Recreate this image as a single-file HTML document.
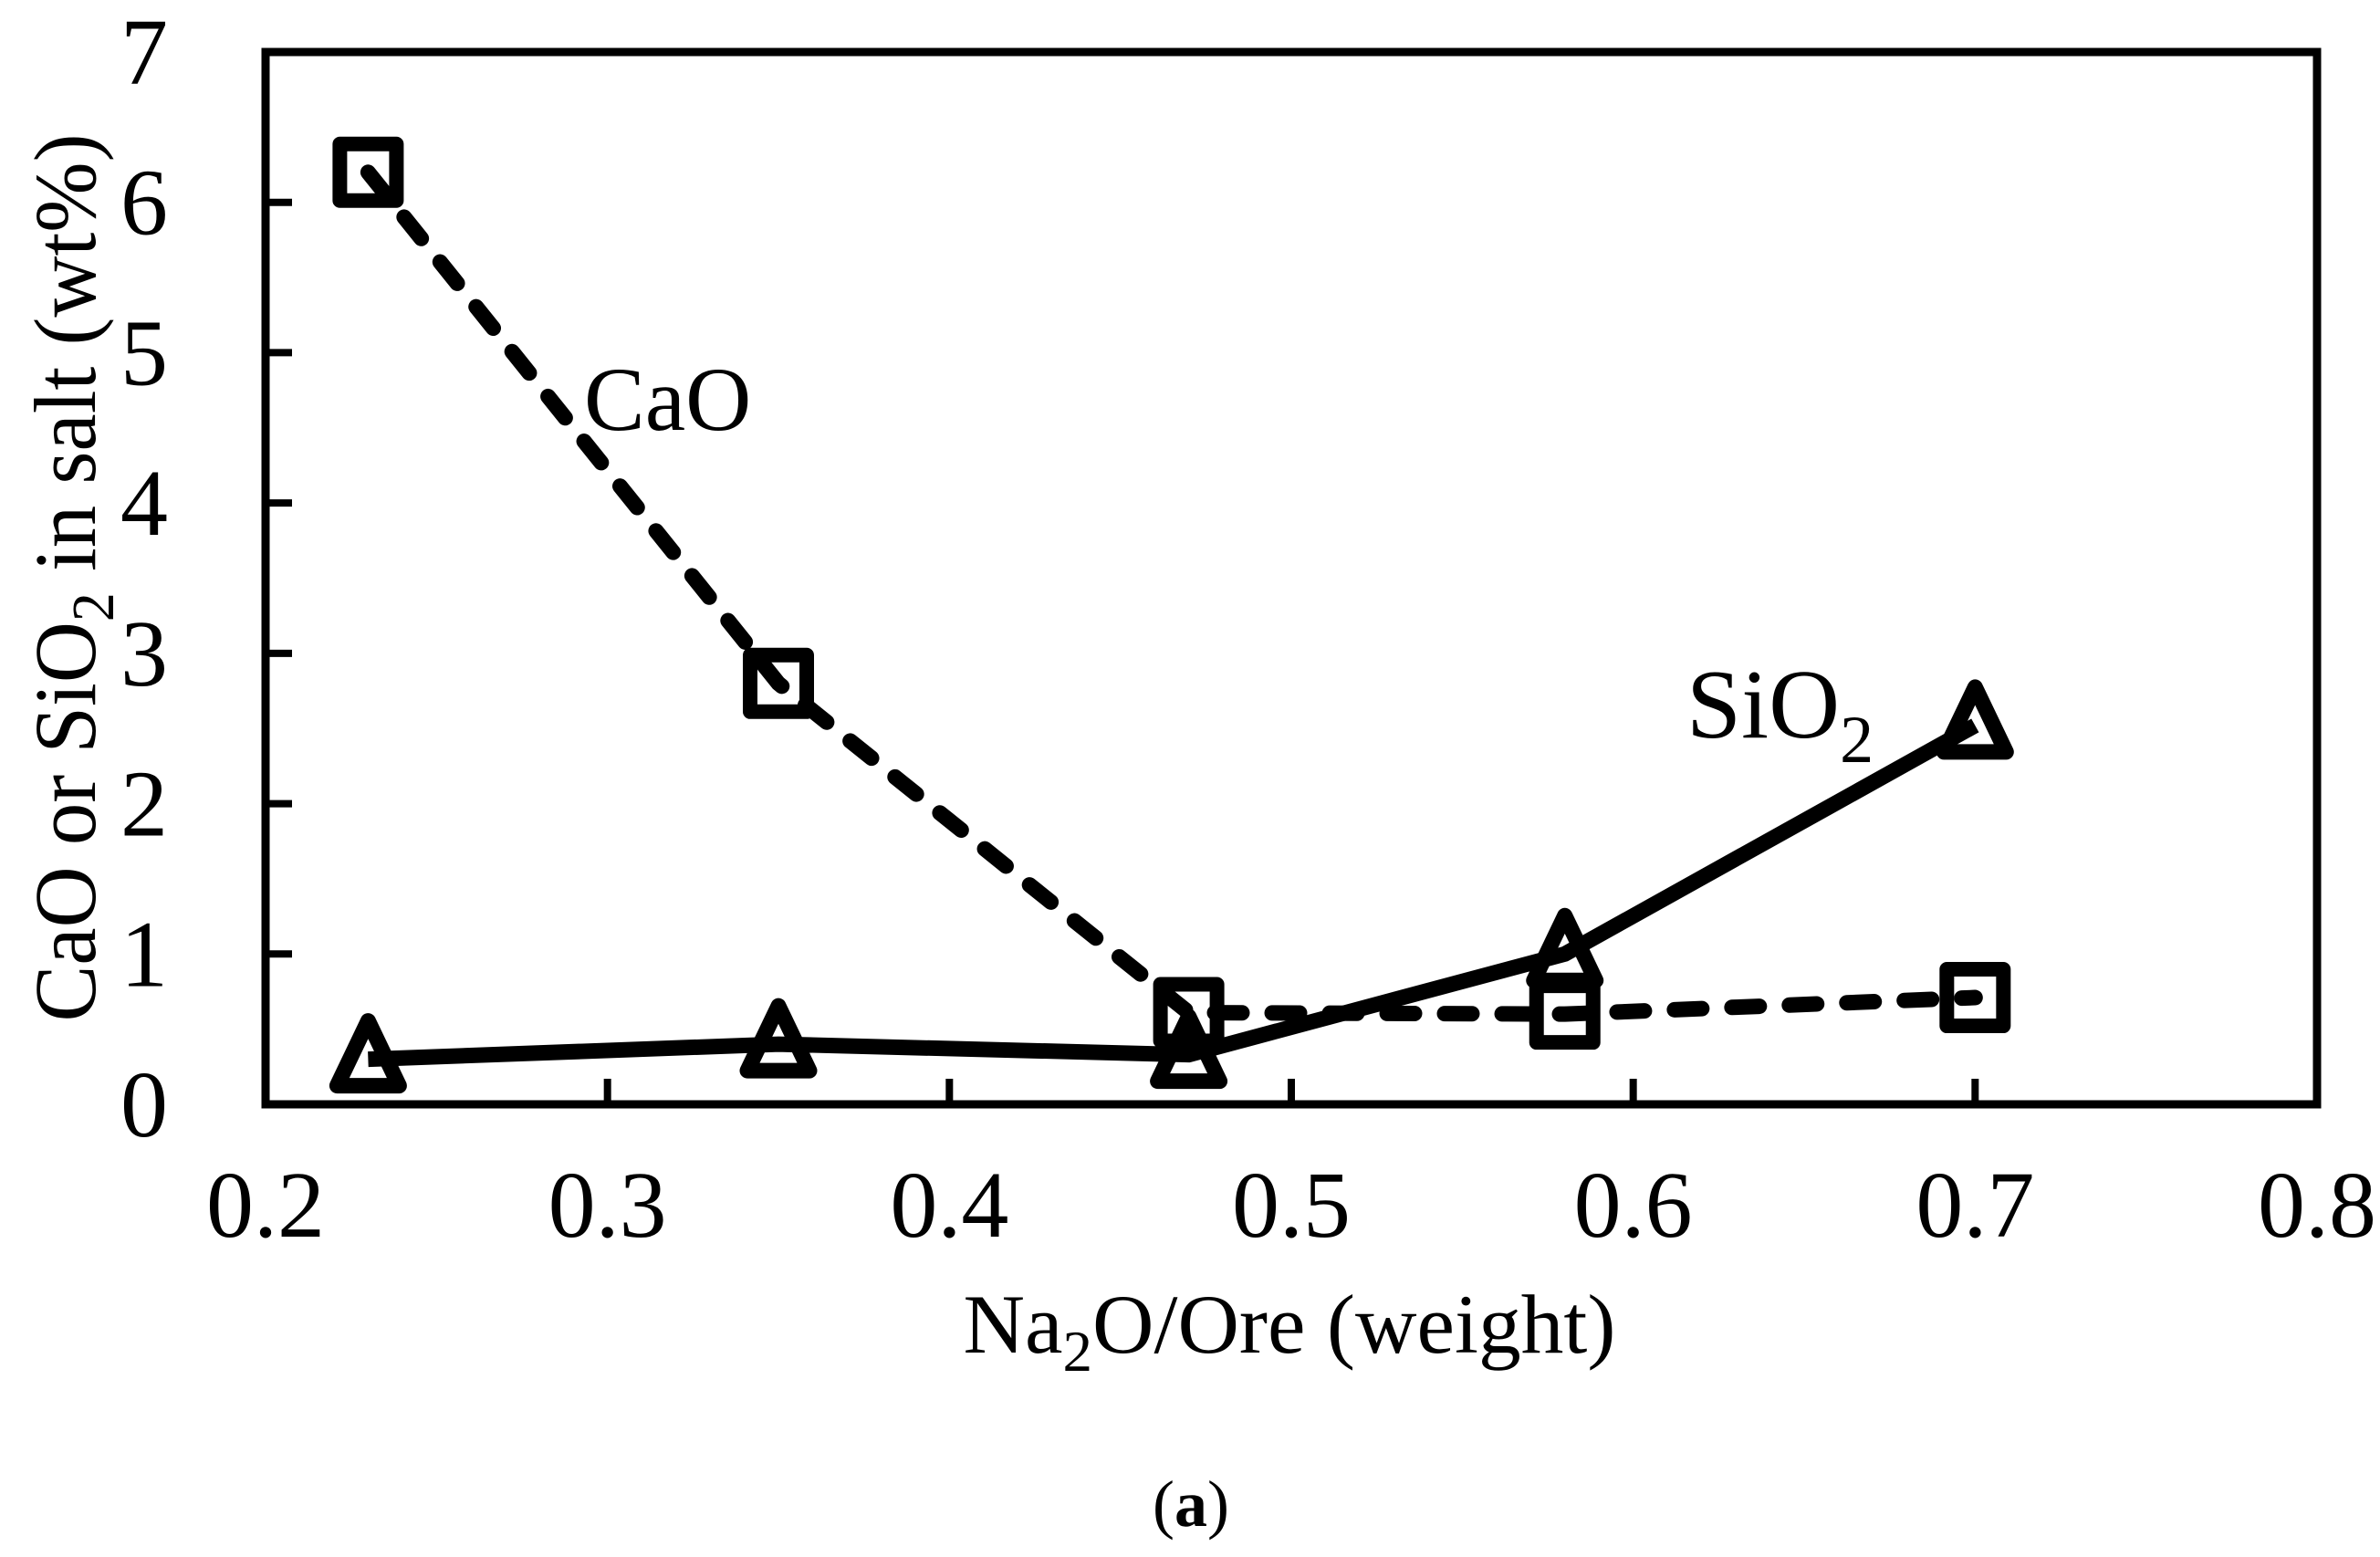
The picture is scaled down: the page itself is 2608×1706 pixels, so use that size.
<!DOCTYPE html>
<html><head><meta charset="utf-8"><style>html,body{margin:0;padding:0;background:#fff}svg{display:block}text{font-family:"Liberation Serif",serif;fill:#000}</style></head>
<body>
<svg id="chart" width="2608" height="1706" viewBox="0 0 2608 1706" xmlns="http://www.w3.org/2000/svg">
<rect x="291" y="57" width="2248" height="1153" fill="none" stroke="#000" stroke-width="9"/>
<g id="axes"></g>
<g id="series"></g>
<text transform="translate(104,633) rotate(-90)" text-anchor="middle" font-size="96" textLength="973" lengthAdjust="spacingAndGlyphs">CaO or SiO<tspan font-size="66" dy="20">2</tspan><tspan dy="-20"> in salt (wt%)</tspan></text>
<text x="1413" y="1482" text-anchor="middle" font-size="92" textLength="715" lengthAdjust="spacingAndGlyphs">Na<tspan font-size="64" dy="20">2</tspan><tspan dy="-20">O/Ore (weight)</tspan></text>
<text x="640" y="471" font-size="100">CaO</text>
<text x="1848" y="808" font-size="108">SiO<tspan font-size="74" dy="27">2</tspan></text>
<text x="1305" y="1672" text-anchor="middle" font-size="72">(<tspan font-weight="bold">a</tspan>)</text>
</svg>
<script>
const xTicks = [0.2, 0.3, 0.4, 0.5, 0.6, 0.7, 0.8];
const xTickLabels = ["0.2", "0.3", "0.4", "0.5", "0.6", "0.7", "0.8"];
const yTicks = [0, 1, 2, 3, 4, 5, 6, 7];
const yTickLabels = ["0", "1", "2", "3", "4", "5", "6", "7"];
const ratios = [0.23, 0.35, 0.47, 0.58, 0.70];
const caoValues = [6.2, 2.8, 0.61, 0.6, 0.71];
const sio2Values = [0.3, 0.4, 0.33, 1.0, 2.52];

const NS = "http://www.w3.org/2000/svg";
const X0 = 291, X1 = 2539, Y0 = 1210, Y1 = 57;
function xs(v) { return X0 + (v - 0.2) / 0.6 * (X1 - X0); }
function ys(v) { return Y0 - v / 7 * (Y0 - Y1); }
function mk(tag, attrs, parent) {
  const e = document.createElementNS(NS, tag);
  for (const k in attrs) e.setAttribute(k, attrs[k]);
  parent.appendChild(e);
  return e;
}
const axes = document.getElementById("axes");
const series = document.getElementById("series");

xTicks.forEach((t, i) => {
  const x = xs(t);
  if (i > 0 && i < xTicks.length - 1) {
    const tk = mk("line", {x1: x, x2: x, y1: Y0, y2: Y0 - 28, stroke: "#000", "stroke-width": 8}, axes);
    
    
  }
  const lb = mk("text", {x: x, y: 1355, "text-anchor": "middle", "font-size": 104}, axes);
  lb.textContent = xTickLabels[i];
  
  
});
yTicks.forEach((t, i) => {
  const y = ys(t);
  if (i > 0 && i < yTicks.length - 1) {
    const tk = mk("line", {x1: X0, x2: X0 + 29, y1: y, y2: y, stroke: "#000", "stroke-width": 8}, axes);
    
    
  }
  const lb = mk("text", {x: 184, y: y + 35, "text-anchor": "end", "font-size": 104}, axes);
  lb.textContent = yTickLabels[i];
  
  
});

function pts(vals) { return ratios.map((r, i) => xs(r) + "," + ys(vals[i])).join(" "); }

const caoLine = mk("polyline", {points: pts(caoValues), fill: "none", stroke: "#000", "stroke-width": 17, "stroke-dasharray": "30 33", "stroke-linecap": "round", "stroke-linejoin": "round"}, series);


const sioLine = mk("polyline", {points: pts(sio2Values), fill: "none", stroke: "#000", "stroke-width": 17, "stroke-linejoin": "round"}, series);



ratios.forEach((r, i) => {
  const x = xs(r), y = ys(caoValues[i]);
  const sq = mk("rect", {x: x - 31, y: y - 31, width: 62, height: 62, fill: "none", stroke: "#000", "stroke-width": 16, "stroke-linejoin": "round"}, series);
  
  
});
ratios.forEach((r, i) => {
  const x = xs(r), y = ys(sio2Values[i]);
  const p = [[x, y - 42], [x - 34, y + 29], [x + 34, y + 29]].map(a => a.join(",")).join(" ");
  const tr = mk("polygon", {points: p, fill: "none", stroke: "#000", "stroke-width": 17, "stroke-linejoin": "round"}, series);
  
  
});
</script>
</body></html>
